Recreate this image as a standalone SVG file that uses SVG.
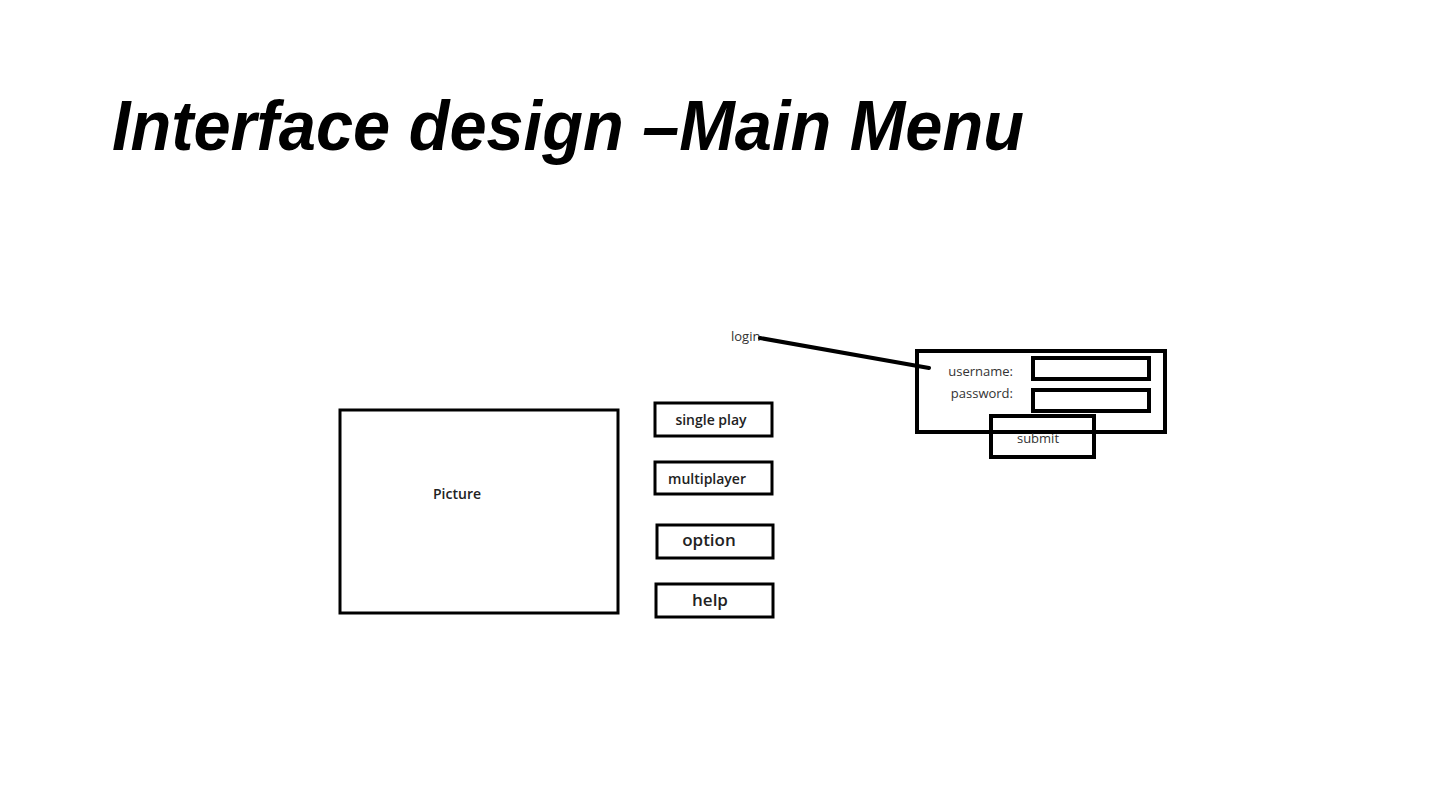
<svg xmlns="http://www.w3.org/2000/svg" width="1440" height="810" viewBox="0 0 1440 810">
<style>
.box{fill:#fff;stroke:#000;stroke-width:3}
.thick{fill:none;stroke:#000;stroke-width:4}
.lbl{font-family:"Open Sans","Noto Sans",sans-serif;font-weight:600;fill:#222;text-anchor:middle}
.sm{font-family:"Open Sans","Noto Sans",sans-serif;font-weight:400;fill:#333}
</style>
<rect width="1440" height="810" fill="#fff"/>
<text x="112" y="150" font-family="'Liberation Sans',Arial,sans-serif" font-style="italic" font-weight="bold" font-size="70" fill="#000" textLength="912" lengthAdjust="spacingAndGlyphs">Interface design –Main Menu</text>
<g id="picture"><rect class="box" x="340" y="410" width="278" height="203"/><text class="lbl" x="457" y="499" font-size="14">Picture</text></g>
<g id="single-play"><rect class="box" x="655" y="403" width="117" height="33"/><text class="lbl" x="711" y="425" font-size="14">single play</text></g>
<g id="multiplayer"><rect class="box" x="655" y="462" width="117" height="32"/><text class="lbl" x="707" y="484" font-size="14">multiplayer</text></g>
<g id="option"><rect class="box" x="657" y="525" width="116" height="33"/><text class="lbl" x="709" y="546" font-size="17">option</text></g>
<g id="help"><rect class="box" x="656" y="584" width="117" height="33"/><text class="lbl" x="710" y="606" font-size="17">help</text></g>
<g id="login-label"><text class="sm" x="731" y="341" font-size="13">login</text></g>
<g id="login-form">
<rect class="thick" x="917" y="351" width="248" height="81"/>
<text class="sm" x="1013" y="376" font-size="13" text-anchor="end">username:</text>
<text class="sm" x="1013" y="398" font-size="13" text-anchor="end">password:</text>
<rect class="thick" x="1033" y="358" width="116" height="21"/>
<rect class="thick" x="1033" y="390" width="116" height="21"/>
</g>
<g id="submit"><rect class="thick" x="991" y="416" width="103" height="41"/><text class="sm" x="1038" y="443" font-size="13" text-anchor="middle">submit</text></g>
<g id="connectors"><line x1="760" y1="338" x2="929" y2="368" stroke="#000" stroke-width="4" stroke-linecap="round"/></g>
</svg>
